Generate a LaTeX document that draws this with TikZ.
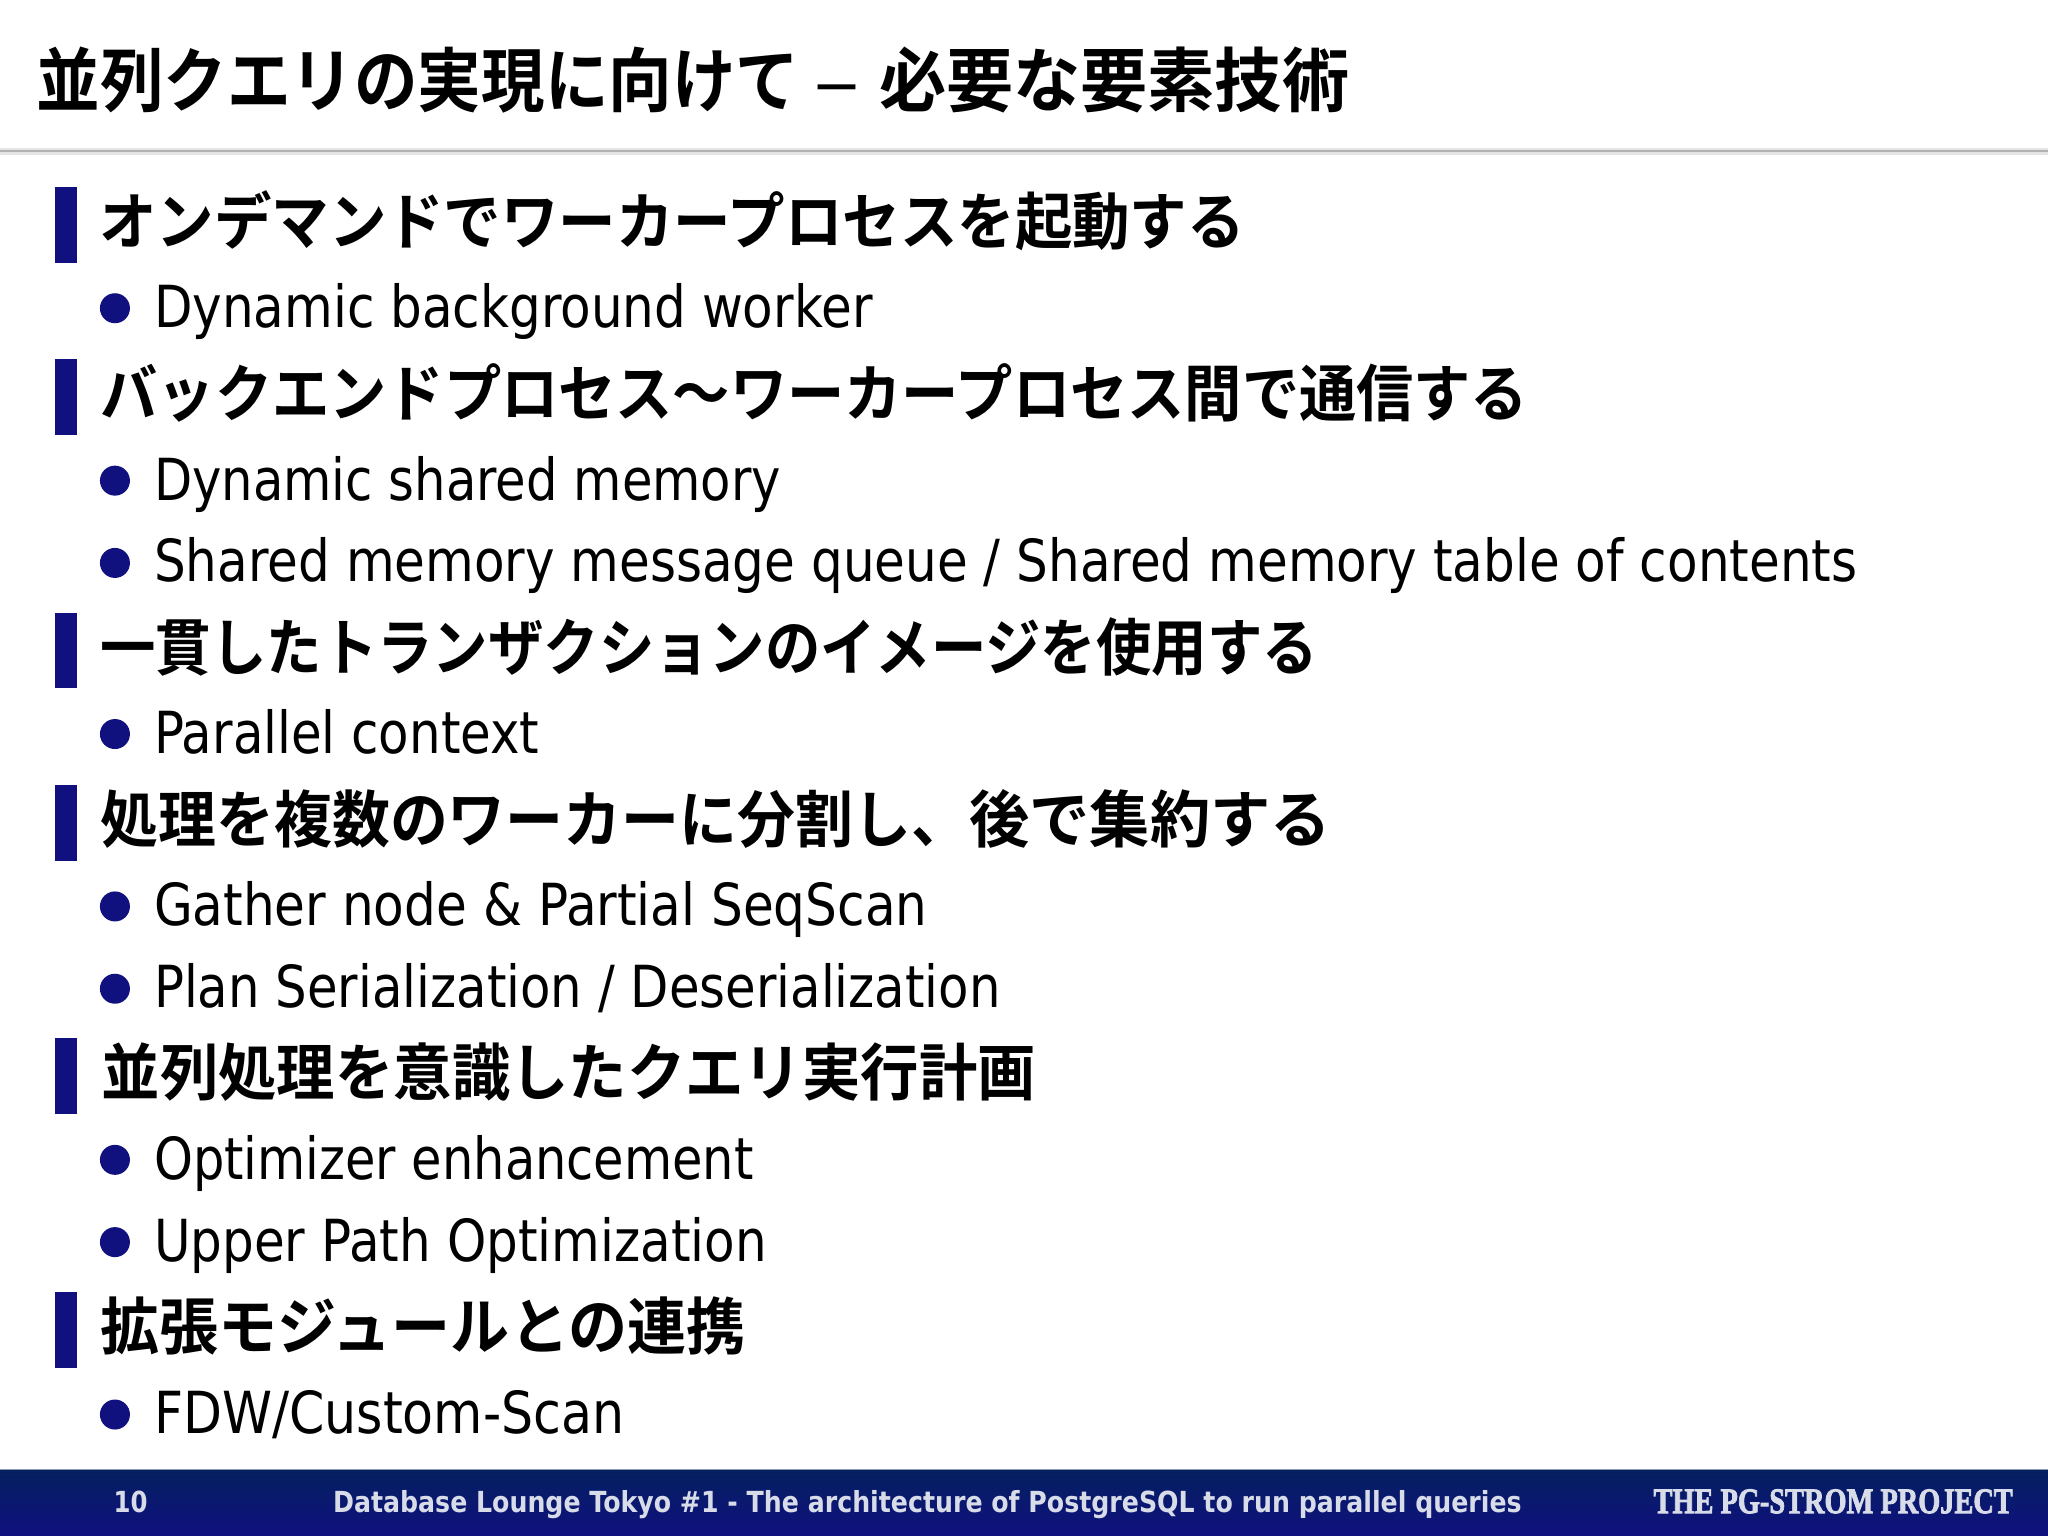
\documentclass[tikz,border=0pt]{standalone}
\usepackage{fontspec}
\usepackage{graphicx}
\setmainfont{DejaVu Sans}
\newfontfamily\jpbold{Noto Sans CJK JP Bold}
\newfontfamily\bodyfont{DejaVu Sans}
\newfontfamily\stencil[FakeBold=2.5]{Liberation Serif Bold}
\newdimen\unitpx \unitpx=0.6531pt
\newcommand{\fitw}[2]{\resizebox{#1\unitpx}{\height}{#2}}
\definecolor{navy}{HTML}{10107F}
\definecolor{foottop}{HTML}{04205F}
\definecolor{footbot}{HTML}{10107F}
\definecolor{foottext}{HTML}{D8DCE8}
\tikzset{
  x=0.6531pt,y=-0.6531pt,
  txt/.style={anchor=base west,inner sep=0pt,outer sep=0pt},
  titletext/.style={txt,font=\jpbold\fontsize{35}{35}\selectfont,text=black},
  headtext/.style={txt,font=\jpbold\fontsize{31}{31}\selectfont,text=black},
  itemtext/.style={txt,font=\bodyfont\fontsize{29}{29}\selectfont,text=black},
  foottxt/.style={txt,font=\bodyfont\bfseries\fontsize{14.5}{14.5}\selectfont,text=foottext},
  bar/.style={fill=navy,draw=none},
  dot/.style={fill=navy,draw=none,circle,inner sep=0pt,outer sep=0pt,minimum size=15pt}
}
\begin{document}
\begin{tikzpicture}
\useasboundingbox (0,0) rectangle (1568,1176);
\fill[white] (0,0) rectangle (1568,1176);
% header rule
\fill[gray!20] (0,113) rectangle (1568,119);
\fill[gray!60] (0,114.5) rectangle (1568,116.5);
% title
\node[titletext] (title) at (28,81.5) {\fitw{584}{並列クエリの実現に向けて}\hspace{11\unitpx}\fitw{36}{{\bodyfont\mdseries –}}\hspace{14\unitpx}\fitw{360}{必要な要素技術}};
% bars
\fill[bar] (42,143) rectangle (59,201);
\fill[bar] (42,275) rectangle (59,333);
\fill[bar] (42,469) rectangle (59,527);
\fill[bar] (42,601) rectangle (59,659);
\fill[bar] (42,795) rectangle (59,853);
\fill[bar] (42,989) rectangle (59,1047);
% headings
\node[headtext] (h1) at (76,187) {\fitw{877}{オンデマンドでワーカープロセスを起動する}};
\node[headtext] (h2) at (77,319) {\fitw{1093}{バックエンドプロセス～ワーカープロセス間で通信する}};
\node[headtext] (h3) at (77,513) {\fitw{932}{一貫したトランザクションのイメージを使用する}};
\node[headtext] (h4) at (77,645) {\fitw{665}{処理を複数のワーカーに分割し、}\fitw{277}{後で集約する}};
\node[headtext] (h5) at (78,839) {\fitw{715}{並列処理を意識したクエリ実行計画}};
\node[headtext] (h6) at (77,1033) {\fitw{494}{拡張モジュールとの連携}};
% bullets
\foreach \n/\yy in {a/236,b/368,c/431,d/562,e/694,f/757,g/888,h/951,i/1083}{
  \node[dot] (dot\n) at (88,\yy) {};
}
% items
\node[itemtext] (t1) at (118,251) {\fitw{550}{Dynamic background worker}};
\node[itemtext] (t2) at (118,383) {\fitw{480}{Dynamic shared memory}};
\node[itemtext] (t3) at (118,445) {\fitw{1304}{Shared memory message queue / Shared memory table of contents}};
\node[itemtext] (t4) at (118,577) {\fitw{295}{Parallel context}};
\node[itemtext] (t5) at (118,708.5) {\fitw{592}{Gather node \& Partial SeqScan}};
\node[itemtext] (t6) at (118,771.5) {\fitw{648}{Plan Serialization / Deserialization}};
\node[itemtext] (t7) at (118,903) {\fitw{459}{Optimizer enhancement}};
\node[itemtext] (t8) at (118,966) {\fitw{469}{Upper Path Optimization}};
\node[itemtext] (t9) at (118,1097.5) {\fitw{360}{FDW/Custom-Scan}};
% footer
\shade[top color=foottop,bottom color=footbot] (0,1125) rectangle (1568,1176);
\fill[white!55!foottop] (0,1124.5) rectangle (1568,1125.5);
\node[foottxt] (page) at (87,1158) {\fitw{26}{10}};
\node[foottxt] (foot) at (255,1158) {\fitw{910}{Database Lounge Tokyo \#1 - The architecture of PostgreSQL to run parallel queries}};
\node[txt,font=\stencil\fontsize{18}{18}\selectfont,text=foottext] (proj) at (1266,1158.5) {\fitw{275}{THE PG-STROM PROJECT}};
\end{tikzpicture}
\end{document}
